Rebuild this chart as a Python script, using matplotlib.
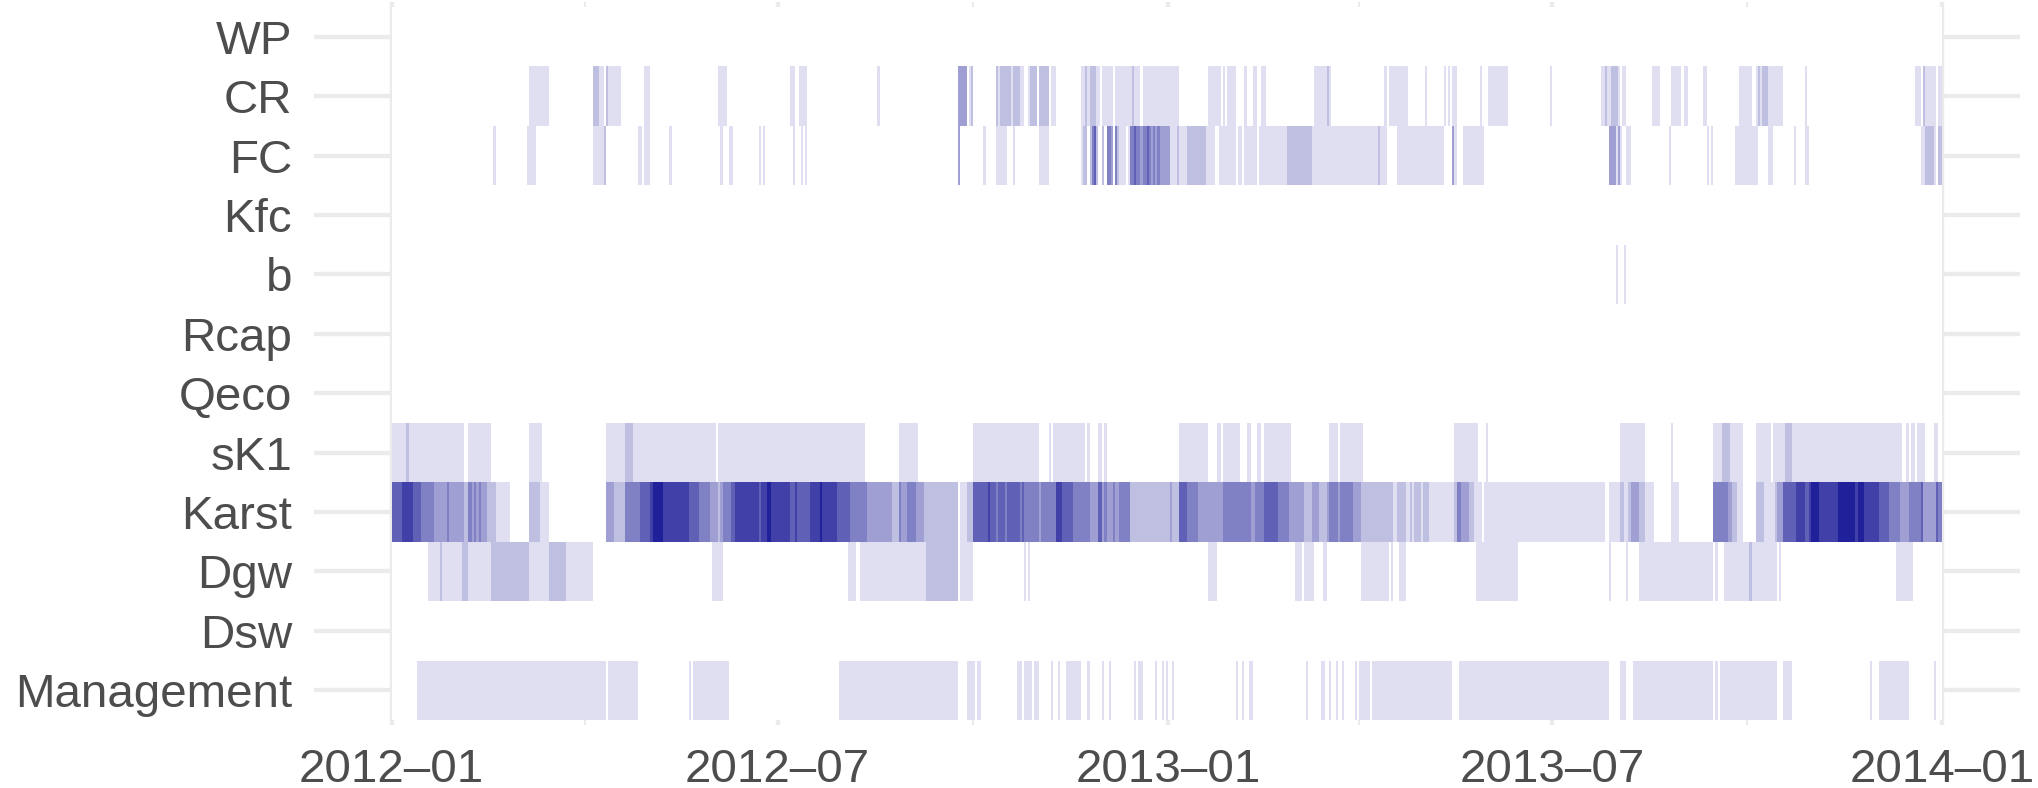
import datetime as dt

import matplotlib
matplotlib.use("Agg")
import matplotlib.pyplot as plt
import matplotlib.dates as mdates
from matplotlib.patches import Rectangle

plt.rcParams["font.family"] = ["Liberation Sans", "DejaVu Sans"]

# rows, top to bottom
rows = ["WP", "CR", "FC", "Kfc", "b", "Rcap", "Qeco", "sK1", "Karst",
        "Dgw", "Dsw", "Management"]

first_day = dt.date(2012, 1, 1)
n_days = 731

# runs: (first day, end day exclusive, level 1..7), days counted from 2012-01-01
wp_runs = []
cr_runs = [
    (65, 74, 1), (95, 98, 2), (98, 100, 1), (101, 102, 2), (102, 108, 1),
    (119, 122, 1), (154, 158, 1), (188, 190, 1), (192, 196, 1), (229, 230, 1),
    (267, 271, 3), (272, 273, 1), (273, 274, 2), (285, 286, 2), (286, 287, 1),
    (287, 292, 2), (292, 293, 1), (293, 296, 2), (296, 298, 1), (300, 301, 1),
    (301, 304, 2), (305, 310, 2), (311, 313, 1), (325, 327, 1), (327, 328, 2),
    (328, 329, 1), (329, 332, 2), (332, 334, 1), (335, 340, 1), (341, 349, 1),
    (349, 350, 2), (350, 353, 1), (354, 371, 1), (385, 391, 1), (392, 393, 1),
    (394, 398, 1), (402, 403, 1), (406, 408, 1), (410, 412, 1), (435, 441, 1),
    (441, 442, 2), (442, 443, 1), (468, 469, 1), (470, 479, 1), (487, 488, 1),
    (496, 497, 1), (498, 499, 1), (500, 502, 1), (513, 514, 1), (517, 526, 1),
    (546, 547, 1), (570, 572, 1), (572, 573, 2), (573, 575, 1), (575, 578, 2),
    (578, 579, 1), (580, 582, 1), (594, 598, 1), (603, 608, 1), (609, 611, 1),
    (618, 620, 1), (635, 641, 1), (643, 644, 1), (644, 645, 2), (645, 646, 1),
    (646, 649, 2), (649, 656, 1), (666, 667, 1), (718, 721, 1), (722, 723, 2),
    (723, 728, 1), (729, 731, 1),
]
fc_runs = [
    (48, 49, 1), (64, 68, 1), (95, 100, 1), (100, 101, 2), (116, 118, 1),
    (119, 122, 1), (131, 132, 1), (155, 156, 1), (159, 161, 1), (173, 174, 1),
    (175, 176, 1), (189, 190, 1), (193, 194, 1), (195, 196, 1), (267, 268, 3),
    (279, 280, 1), (285, 290, 1), (293, 294, 1), (305, 310, 1), (325, 326, 1),
    (326, 328, 2), (329, 330, 2), (330, 331, 4), (331, 332, 5), (332, 333, 2),
    (335, 336, 2), (337, 339, 4), (339, 340, 3), (341, 342, 4), (342, 343, 2),
    (343, 346, 1), (347, 348, 1), (348, 350, 4), (350, 351, 5), (351, 353, 4),
    (353, 354, 3), (354, 356, 4), (356, 357, 5), (357, 358, 4), (358, 359, 3),
    (359, 360, 4), (360, 361, 3), (361, 362, 4), (362, 367, 3), (367, 370, 1),
    (370, 371, 2), (371, 375, 1), (375, 384, 2), (384, 388, 1), (390, 398, 1),
    (399, 401, 1), (402, 408, 1), (409, 422, 1), (422, 434, 2), (434, 465, 1),
    (465, 466, 2), (466, 469, 1), (474, 496, 1), (500, 501, 3), (501, 502, 1),
    (505, 515, 1), (574, 577, 3), (577, 578, 1), (578, 579, 3), (579, 580, 1),
    (582, 584, 1), (602, 603, 1), (620, 621, 1), (622, 623, 1), (633, 644, 1),
    (649, 651, 1), (661, 662, 1), (666, 668, 1), (721, 723, 1), (723, 727, 2),
    (727, 728, 1), (729, 731, 2),
]
kfc_runs = []
b_runs = [(577, 578, 1), (581, 582, 1)]
rcap_runs = []
qeco_runs = []
sk1_runs = [
    (0, 7, 1), (7, 8, 2), (8, 34, 1), (36, 47, 1), (65, 71, 1), (101, 110, 1),
    (110, 114, 2), (114, 153, 1), (154, 223, 1), (239, 248, 1), (274, 305, 1),
    (310, 311, 1), (312, 327, 1), (328, 329, 1), (333, 335, 1), (336, 337, 1),
    (371, 385, 1), (389, 391, 1), (392, 400, 1), (403, 405, 1), (408, 410, 1),
    (411, 424, 1), (442, 446, 1), (447, 458, 1), (501, 512, 1), (516, 517, 1),
    (579, 591, 1), (603, 604, 1), (623, 627, 1), (627, 631, 2), (631, 637, 1),
    (643, 650, 1), (651, 657, 1), (657, 660, 2), (660, 712, 1), (714, 715, 1),
    (716, 718, 1), (719, 723, 1), (727, 729, 1),
]
karst_runs = [
    (0, 5, 5), (5, 10, 6), (10, 14, 5), (14, 20, 4), (20, 26, 3), (26, 27, 4),
    (27, 34, 3), (34, 36, 2), (36, 38, 4), (38, 39, 3), (39, 40, 4), (40, 41, 3),
    (41, 42, 4), (42, 45, 3), (45, 49, 2), (49, 56, 1), (65, 70, 2), (70, 74, 1),
    (101, 105, 3), (105, 110, 2), (110, 117, 4), (117, 122, 5), (122, 123, 6),
    (123, 128, 7), (128, 140, 6), (140, 145, 5), (145, 150, 4), (150, 154, 3),
    (154, 155, 2), (155, 156, 3), (156, 160, 4), (160, 162, 5), (162, 173, 6),
    (173, 174, 5), (174, 177, 6), (177, 179, 7), (179, 188, 6), (188, 190, 5),
    (190, 191, 6), (191, 197, 5), (197, 202, 6), (202, 203, 7), (203, 210, 6),
    (210, 216, 5), (216, 224, 4), (224, 236, 3), (236, 239, 2), (239, 240, 4),
    (240, 243, 3), (243, 247, 4), (247, 251, 3), (251, 267, 2), (268, 271, 1),
    (271, 274, 2), (274, 281, 5), (281, 282, 6), (282, 285, 5), (285, 286, 4),
    (286, 289, 5), (289, 290, 4), (290, 296, 5), (296, 297, 4), (297, 298, 5),
    (298, 305, 4), (305, 306, 3), (306, 313, 4), (313, 316, 6), (316, 321, 5),
    (321, 329, 4), (329, 333, 3), (333, 335, 5), (335, 336, 3), (336, 337, 4),
    (337, 340, 3), (340, 341, 4), (341, 343, 3), (343, 348, 4), (348, 367, 2),
    (367, 368, 3), (368, 371, 2), (371, 375, 5), (375, 380, 4), (380, 392, 3),
    (392, 405, 4), (405, 407, 3), (407, 411, 4), (411, 418, 5), (418, 423, 4),
    (423, 430, 3), (430, 434, 2), (434, 437, 3), (437, 441, 2), (441, 442, 3),
    (442, 446, 4), (446, 447, 3), (447, 453, 4), (453, 457, 3), (457, 472, 2),
    (472, 474, 1), (474, 478, 2), (478, 480, 1), (480, 481, 2), (481, 482, 1),
    (482, 485, 2), (485, 486, 1), (486, 489, 2), (489, 501, 1), (501, 502, 2),
    (502, 504, 4), (504, 508, 3), (508, 510, 2), (510, 514, 1), (515, 572, 1),
    (574, 579, 1), (579, 581, 2), (581, 583, 1), (583, 584, 2), (584, 588, 3),
    (588, 591, 2), (591, 595, 1), (603, 607, 1), (623, 630, 4), (630, 632, 3),
    (632, 634, 2), (634, 637, 1), (643, 647, 2), (647, 652, 1), (652, 653, 2),
    (653, 656, 3), (656, 662, 5), (662, 666, 6), (666, 668, 5), (668, 669, 6),
    (669, 673, 7), (673, 682, 6), (682, 690, 7), (690, 691, 6), (691, 694, 7),
    (694, 701, 6), (701, 706, 5), (706, 711, 4), (711, 715, 3), (715, 721, 4),
    (721, 722, 5), (722, 728, 3), (728, 729, 5), (729, 731, 4),
]
dgw_runs = [
    (17, 23, 1), (23, 24, 2), (24, 33, 1), (33, 36, 2), (36, 47, 1), (47, 65, 2),
    (65, 74, 1), (74, 82, 2), (82, 95, 1), (151, 156, 1), (215, 219, 1),
    (221, 252, 1), (252, 267, 2), (268, 274, 1), (298, 299, 1), (300, 301, 1),
    (385, 389, 1), (426, 429, 1), (430, 435, 1), (439, 441, 1), (457, 470, 1),
    (471, 472, 1), (475, 478, 1), (511, 531, 1), (574, 575, 1), (582, 583, 1),
    (588, 623, 1), (624, 625, 1), (628, 640, 1), (640, 641, 2), (641, 653, 1),
    (654, 655, 1), (709, 717, 1),
]
dsw_runs = []
management_runs = [
    (12, 101, 1), (102, 116, 1), (140, 141, 1), (142, 159, 1), (211, 267, 1),
    (271, 275, 1), (276, 278, 1), (295, 297, 1), (298, 302, 1), (303, 305, 1),
    (311, 312, 1), (314, 315, 1), (318, 325, 1), (328, 329, 1), (335, 336, 1),
    (338, 339, 1), (350, 351, 1), (352, 354, 1), (360, 361, 1), (363, 364, 1),
    (365, 366, 1), (368, 369, 1), (398, 399, 1), (401, 402, 1), (404, 406, 1),
    (431, 432, 1), (438, 440, 1), (442, 443, 1), (445, 446, 1), (448, 449, 1),
    (454, 455, 1), (456, 461, 1), (462, 500, 1), (503, 574, 1), (579, 582, 1),
    (585, 623, 1), (624, 625, 1), (626, 653, 1), (656, 660, 1), (697, 698, 1),
    (701, 715, 1), (727, 728, 1),
]

runs = [wp_runs, cr_runs, fc_runs, kfc_runs, b_runs, rcap_runs, qeco_runs,
        sk1_runs, karst_runs, dgw_runs, dsw_runs, management_runs]

major_dates = [dt.date(2012, 1, 1), dt.date(2012, 7, 1), dt.date(2013, 1, 1),
               dt.date(2013, 7, 1), dt.date(2014, 1, 1)]
minor_dates = [dt.date(2012, 4, 1), dt.date(2012, 10, 1), dt.date(2013, 4, 1),
               dt.date(2013, 10, 1)]

base = (0.0, 0.0, 139 / 255)  # darkblue


def shade(level):
    a = level / 8
    return tuple(1 - a * (1 - c) for c in base)


W, H = 2038, 788
fig = plt.figure(figsize=(W / 100, H / 100), dpi=100)
ax = fig.add_axes([314 / W, 1 - 725 / H, (2020 - 314) / W, 723 / H])

t0 = mdates.date2num(first_day)
pad = 0.05 * n_days

# blank tile area hides the grid like the NA tiles do
ax.add_patch(Rectangle((t0, -0.5), n_days, len(rows), facecolor="white",
                       edgecolor="none", zorder=1))

for i, row in enumerate(runs):
    if not row:
        continue
    xr = [(t0 + s, e - s) for s, e, lev in row]
    cols = [shade(lev) for s, e, lev in row]
    ax.broken_barh(xr, (i - 0.5, 1.0), facecolors=cols, linewidth=0,
                   antialiased=False, zorder=2)

ax.set_xlim(t0 - pad, t0 + n_days + pad)
off = 5 / 59.4
ax.set_ylim(len(rows) - 0.5 + off, -0.5 - off)

ax.set_yticks(range(len(rows)))
ax.set_yticklabels(rows)
ax.set_xticks([mdates.date2num(d) for d in major_dates])
ax.set_xticklabels([d.strftime("%Y\u2013%m") for d in major_dates])
ax.set_xticks([mdates.date2num(d) for d in minor_dates], minor=True)

ax.set_axisbelow(True)
ax.grid(which="major", color="#EBEBEB", linewidth=3.1)
ax.grid(which="minor", axis="x", color="#EBEBEB", linewidth=1.5)
for sp in ax.spines.values():
    sp.set_visible(False)

ax.tick_params(which="both", length=0, labelsize=34.2, labelcolor="#4D4D4D")
ax.tick_params(axis="y", pad=15.8)
ax.tick_params(axis="x", pad=16.5)

fig.savefig("out.png", dpi=100, facecolor="white")
